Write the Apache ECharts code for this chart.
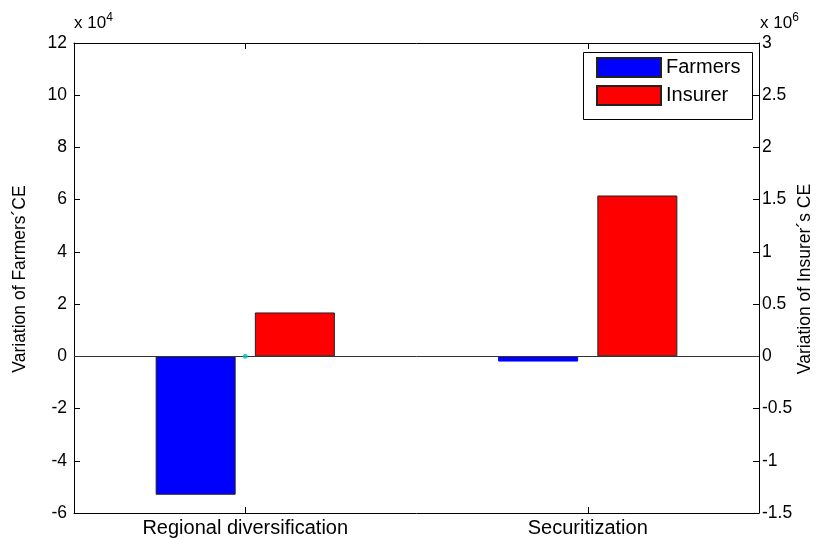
<!DOCTYPE html>
<html>
<head>
<meta charset="utf-8">
<script src="https://cdn.jsdelivr.net/npm/echarts@6/dist/echarts.min.js"></script>
<style>html,body{margin:0;padding:0;background:#fff;}#c{width:821px;height:539px;}</style>
</head>
<body>
<div id="c"></div>
<script>
// Data (display units: farmers in x10^4, insurer in x10^6)
const categories = ['Regional diversification', 'Securitization'];
const farmersCE = [-5.3, -0.2];
const insurerCE = [0.42, 1.54];
const zeroMarker = [0, null];
const leftAxis = { min: -6, max: 12, interval: 2 };
const rightAxis = { min: -1.5, max: 3, interval: 0.5 };
const seriesNames = ['Farmers', 'Insurer'];

const FONT = '"Liberation Sans", Arial, sans-serif';
const chart = echarts.init(document.getElementById('c'), null, { renderer: 'canvas' });

const axisLineStyle = { color: '#000', width: 1 };
chart.setOption({
  animation: false,
  backgroundColor: '#fff',
  textStyle: { fontFamily: FONT },
  grid: { left: 74, right: 62, top: 43, bottom: 26, containLabel: false },
  xAxis: [
    {
      type: 'category', data: categories, position: 'bottom',
      axisLine: { show: true, onZero: false, lineStyle: axisLineStyle },
      axisTick: { show: true, inside: true, alignWithLabel: true, length: 6, lineStyle: axisLineStyle },
      axisLabel: { color: '#000', fontSize: 20, fontFamily: FONT, margin: 5 },
      splitLine: { show: false }
    },
    {
      type: 'category', data: categories, position: 'top',
      axisLine: { show: true, onZero: false, lineStyle: axisLineStyle },
      axisTick: { show: true, inside: true, alignWithLabel: true, length: 6, lineStyle: axisLineStyle },
      axisLabel: { show: false },
      splitLine: { show: false }
    }
  ],
  yAxis: [
    {
      type: 'value', position: 'left', min: leftAxis.min, max: leftAxis.max, interval: leftAxis.interval,
      axisLine: { show: true, onZero: false, lineStyle: axisLineStyle },
      axisTick: { show: true, inside: true, length: 6, lineStyle: axisLineStyle },
      axisLabel: { color: '#000', fontSize: 17.5, fontFamily: FONT, margin: 7 },
      splitLine: { show: false }
    },
    {
      type: 'value', position: 'right', min: rightAxis.min, max: rightAxis.max, interval: rightAxis.interval,
      axisLine: { show: true, onZero: false, lineStyle: axisLineStyle },
      axisTick: { show: true, inside: true, length: 6, lineStyle: axisLineStyle },
      axisLabel: { color: '#000', fontSize: 17.5, fontFamily: FONT, margin: 3 },
      splitLine: { show: false }
    }
  ],
  legend: {
    data: seriesNames,
    orient: 'vertical',
    left: 596, top: 57,
    padding: 0,
    itemWidth: 64, itemHeight: 19, itemGap: 7,
    icon: 'rect',
    z: 10,
    textStyle: { color: '#000', fontSize: 20, fontFamily: FONT }
  },
  graphic: [
    { type: 'rect', z: 5, shape: { x: 583.5, y: 52.5, width: 169, height: 67 },
      style: { fill: '#fff', stroke: '#000', lineWidth: 1 } },
    { type: 'text', x: 74, y: 35, style: {
        text: '{a|x 10}{b|4}', textVerticalAlign: 'bottom',
        rich: { a: { fontSize: 17, fontFamily: FONT, fill: '#000' },
                b: { fontSize: 12, fontFamily: FONT, fill: '#000', verticalAlign: 'top', padding: [0, 0, 11, 0] } } } },
    { type: 'text', x: 760, y: 35, style: {
        text: '{a|x 10}{b|6}', textVerticalAlign: 'bottom',
        rich: { a: { fontSize: 17, fontFamily: FONT, fill: '#000' },
                b: { fontSize: 12, fontFamily: FONT, fill: '#000', verticalAlign: 'top', padding: [0, 0, 11, 0] } } } },
    { type: 'text', x: 20, y: 279, rotation: Math.PI / 2, style: {
        text: 'Variation of Farmers´CE', fontSize: 17.5, fontFamily: FONT, fill: '#000',
        textAlign: 'center', textVerticalAlign: 'middle' } },
    { type: 'text', x: 805, y: 279, rotation: Math.PI / 2, style: {
        text: 'Variation of Insurer´s CE', fontSize: 17.5, fontFamily: FONT, fill: '#000',
        textAlign: 'center', textVerticalAlign: 'middle' } }
  ],
  series: [
    {
      name: seriesNames[0], type: 'bar', xAxisIndex: 0, yAxisIndex: 0,
      barWidth: 80, barGap: '24%',
      data: farmersCE.map((v, i) => i === 1
        ? { value: v, itemStyle: { borderColor: '#0000ff', borderWidth: 1 } }
        : v),
      itemStyle: { color: '#0000ff', borderColor: '#222', borderWidth: 1 },
      markLine: {
        silent: true, symbol: 'none', label: { show: false },
        lineStyle: { color: '#333', width: 1, type: 'solid' },
        data: [{ yAxis: 0 }]
      }
    },
    {
      name: seriesNames[1], type: 'bar', xAxisIndex: 0, yAxisIndex: 1,
      barWidth: 80, barGap: '24%',
      data: insurerCE,
      itemStyle: { color: '#ff0000', borderColor: '#222', borderWidth: 1 }
    },
    {
      name: 'marker', type: 'scatter', xAxisIndex: 0, yAxisIndex: 0,
      data: zeroMarker, symbolSize: 5, z: 5,
      itemStyle: { color: '#00c0c0' }
    }
  ]
});
</script>
</body>
</html>
